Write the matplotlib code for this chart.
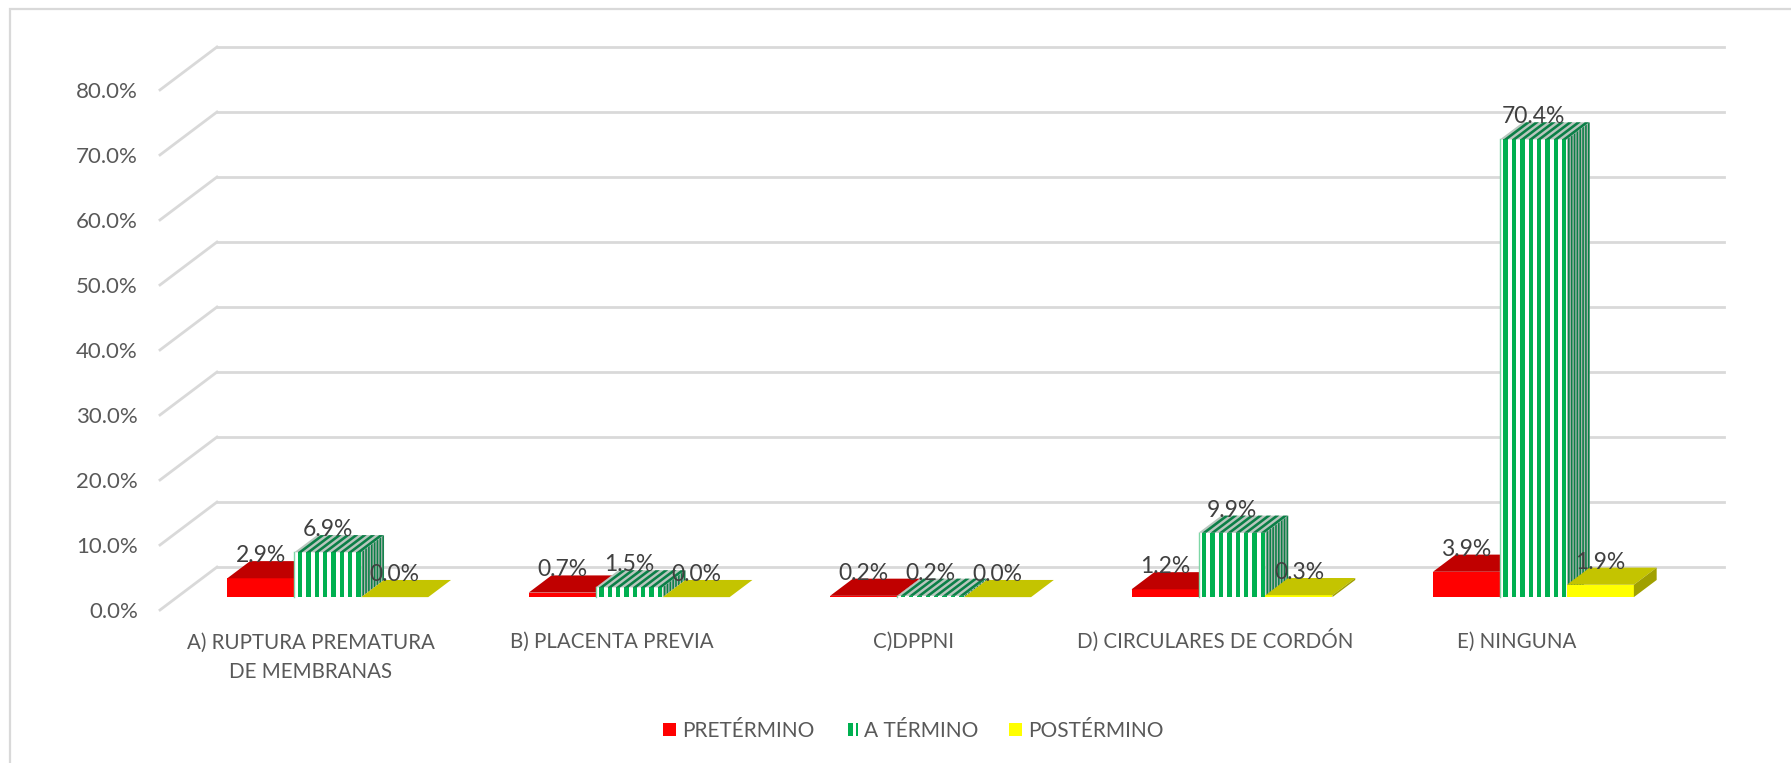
from matplotlib import pyplot as plt
from matplotlib.legend_handler import HandlerBase
from matplotlib.patches import Patch, Rectangle

categories = ["A) RUPTURA PREMATURA\nDE MEMBRANAS", "B) PLACENTA PREVIA", "C)DPPNI",
              "D) CIRCULARES DE CORDÓN", "E) NINGUNA"]
pretermino = [2.9, 0.7, 0.2, 1.2, 3.9]
a_termino = [6.9, 1.5, 0.2, 9.9, 70.4]
postermino = [0.0, 0.0, 0.0, 0.3, 1.9]
y_ticks = [0, 10, 20, 30, 40, 50, 60, 70, 80]

BAR_W = 0.2222
DEPTH_X = 0.189
DEPTH_Y = 6.6
D0, D1 = 0.3, 0.7
TEXT = "#595959"
GRID = "#D9D9D9"

plt.rcParams['font.family'] = ['Lato', 'DejaVu Sans']


def shift(x, y, d):
    return x + d * DEPTH_X, y + d * DEPTH_Y


def para(ax, pts, color, z):
    ax.fill([p[0] for p in pts], [p[1] for p in pts], color=color, lw=0, zorder=z, clip_on=False)


def solid_bar(ax, x, h, front, top, side, z):
    a = shift(x, 0, D0)
    b = shift(x + BAR_W, 0, D0)
    c = shift(x + BAR_W, h, D0)
    d = shift(x, h, D0)
    para(ax, [a, b, c, d], front, z)
    para(ax, [d, c, shift(x + BAR_W, h, D1), shift(x, h, D1)], top, z)
    para(ax, [b, shift(x + BAR_W, 0, D1), shift(x + BAR_W, h, D1), c], side, z)


def striped_bar(ax, x, h, z):
    n = 8
    step = BAR_W / n
    # white body, then green stripes on each face
    solid_bar(ax, x, h, "white", "#B9C6BE", "#A9B5AD", z)
    for i in range(n):
        x0 = x + step * (i + 0.42)
        x1 = x0 + step * 0.52
        para(ax, [shift(x0, 0, D0), shift(x1, 0, D0), shift(x1, h, D0), shift(x0, h, D0)], "#00B050", z)
        para(ax, [shift(x0, h, D0), shift(x1, h, D0), shift(x1, h, D1), shift(x0, h, D1)], "#0B7F47", z)
    for i in range(n):
        d0 = D0 + (D1 - D0) * (i + 0.4) / n
        d1 = d0 + (D1 - D0) * 0.55 / n
        xr = x + BAR_W
        para(ax, [shift(xr, 0, d0), shift(xr, 0, d1), shift(xr, h, d1), shift(xr, h, d0)], "#0B7F47", z)
    ax.plot(*zip(shift(x, 0, D0), shift(x, h, D0)), color="#7FD7A7", lw=1, zorder=z, clip_on=False)


class StripeHandler(HandlerBase):
    def create_artists(self, legend, orig, xd, yd, w, h, fontsize, trans):
        return [Rectangle((-xd + w * 0.22, -yd), w * 0.38, h, color="#00B050", lw=0, transform=trans),
                Rectangle((-xd + w * 0.8, -yd), w * 0.2, h, color="#00B050", lw=0, transform=trans)]


fig = plt.figure(figsize=(17.91, 7.63), dpi=100)
ax = fig.add_axes([160 / 1791, (763 - 610) / 763, 1564 / 1791, 563 / 763])
ax.set_xlim(-0.5, 4.5 + DEPTH_X)
ax.set_ylim(0, 86.6)
for s in ax.spines.values():
    s.set_visible(False)

for v in y_ticks:
    p = shift(-0.5, v, 1)
    ax.plot([-0.5, p[0]], [v, p[1]], color=GRID, lw=2, zorder=1, clip_on=False)
    ax.plot([p[0], 4.5 + DEPTH_X], [p[1], p[1]], color=GRID, lw=2, zorder=1, clip_on=False)

ax.set_yticks(y_ticks)
ax.set_yticklabels([f"{v:.1f}%" for v in y_ticks], fontsize=16, color=TEXT)
ax.set_xticks(range(len(categories)))
ax.set_xticklabels(categories, fontsize=14.8, color=TEXT, linespacing=1.62)
for lab in ax.get_xticklabels():
    lab.set_verticalalignment('baseline')
# two-line label sits on its last line, so push it down one line
ax.get_xticklabels()[0].set_y(-31 / 563)
ax.tick_params(axis='y', length=0, pad=16)
ax.tick_params(axis='x', length=0, pad=27)

for i in range(len(categories)):
    z = 3 + i * 3
    x0 = i - 1.5 * BAR_W
    solid_bar(ax, x0, pretermino[i], "#FF0000", "#C00000", "#A00000", z)
    striped_bar(ax, x0 + BAR_W, a_termino[i], z + 1)
    solid_bar(ax, x0 + 2 * BAR_W, postermino[i], "#FFFF00", "#C4C400", "#A0A000", z + 2)
    for k, vals in enumerate([pretermino, a_termino, postermino]):
        lx, ly = shift(x0 + (k + 0.5) * BAR_W, vals[i], D1)
        ax.text(lx - D1 * DEPTH_X + D0 * DEPTH_X, ly + 0.85, f"{vals[i]:.1f}%", fontsize=16.5, color="#404040",
                ha="center", va="center", zorder=30, clip_on=False)

handles = [Patch(color="#FF0000", lw=0), Patch(color="#00B050", lw=0), Patch(color="#FFFF00", lw=0)]
fig.legend(handles, ["PRETÉRMINO", "A TÉRMINO", "POSTÉRMINO"], handler_map={handles[1]: StripeHandler()},
           loc="center", bbox_to_anchor=(913.5 / 1791, (763 - 731) / 763), ncol=3, frameon=False, fontsize=15,
           labelcolor=TEXT, handlelength=0.62, handleheight=0.62, handletextpad=0.3, columnspacing=1.45)

fig.add_artist(Rectangle((9.5 / 1791, -0.1), 1.1, 0.1 + 1 - 9.5 / 763, transform=fig.transFigure, fill=False,
                         edgecolor="#D9D9D9", lw=1.6))
fig.savefig("out.png", dpi=100)
